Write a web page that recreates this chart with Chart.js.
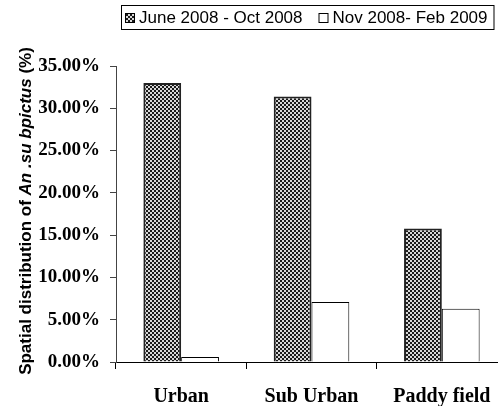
<!DOCTYPE html>
<html>
<head>
<meta charset="utf-8">
<script src="https://cdn.jsdelivr.net/npm/chart.js@4.4.1/dist/chart.umd.min.js"></script>
<style>
  html, body { margin: 0; padding: 0; background: #fff; overflow: hidden; }
  #wrap { width: 510px; height: 406px; }
</style>
</head>
<body>
<div id="wrap"><canvas id="c" width="510" height="406"></canvas></div>
<script>
// Sites surveyed and share of An. subpictus found at each, per season (%)
const categories = ['Urban', 'Sub Urban', 'Paddy field'];
const seasonLabels = ['June 2008 - Oct 2008', 'Nov 2008- Feb 2009'];
const juneToOct = [33.0, 31.4, 15.8];
const novToFeb = [0.6, 7.1, 6.3];
const yTicks = [0, 5, 10, 15, 20, 25, 30, 35];

// fine black/white checker fill for the first season
function checker() {
  const p = document.createElement('canvas');
  p.width = 4; p.height = 4;
  const g = p.getContext('2d');
  g.fillStyle = '#d8d8d8'; g.fillRect(0, 0, 4, 4);
  g.fillStyle = '#1a1a1a';
  g.fillRect(0, 0, 2, 2); g.fillRect(2, 2, 2, 2);
  return g.createPattern(p, 'repeat');
}
const ctx = document.getElementById('c').getContext('2d');
const hatch = checker();

// boxed legend and the mixed-style y title
const decorations = {
  id: 'decorations',
  afterDraw(chart) {
    const c = chart.ctx;
    c.save();
    // legend
    c.font = '17px "Liberation Sans", Arial, sans-serif';
    c.textBaseline = 'middle';
    const top = 5, h = 24, left = 121;
    let x = left + 4;
    const cy = top + h / 2 + 1;
    const fills = [hatch, '#ffffff'];
    const items = [];
    seasonLabels.forEach((lab, i) => {
      items.push({ x, lab, fill: fills[i] });
      x += 10 + 4 + c.measureText(lab).width + 16;
    });
    const right = x - 10;
    c.strokeStyle = '#000'; c.lineWidth = 1;
    c.strokeRect(left + 0.5, top + 0.5, right - left, h);
    items.forEach(it => {
      c.fillStyle = it.fill;
      c.fillRect(it.x, cy - 5, 10, 10);
      c.strokeStyle = '#000';
      c.strokeRect(it.x + 0.5, cy - 5 + 0.5, 9, 9);
      c.fillStyle = '#000';
      c.fillText(it.lab, it.x + 14, cy);
    });
    // y title
    const fam = '"Liberation Sans", Arial, sans-serif';
    const parts = [
      { t: 'Spatial distribution of ', f: 'bold 17px ' + fam },
      { t: 'An .su bpictus', f: 'italic bold 17px ' + fam },
      { t: ' (%)', f: 'bold 17px ' + fam }
    ];
    let total = 0;
    parts.forEach(p => { c.font = p.f; p.w = c.measureText(p.t).width; total += p.w; });
    c.translate(31, 211);
    c.rotate(-Math.PI / 2);
    c.textBaseline = 'alphabetic';
    c.fillStyle = '#000';
    let px = -total / 2;
    parts.forEach(p => { c.font = p.f; c.fillText(p.t, px, 0); px += p.w; });
    c.restore();
  }
};

new Chart(ctx, {
  type: 'bar',
  data: {
    labels: categories,
    datasets: [
      { label: seasonLabels[0], data: juneToOct, backgroundColor: hatch,
        borderColor: '#222', borderWidth: 2 },
      { label: seasonLabels[1], data: novToFeb, backgroundColor: '#ffffff',
        borderColor: '#000', borderWidth: 1 }
    ]
  },
  options: {
    responsive: false,
    animation: false,
    devicePixelRatio: 1,
    layout: { padding: { top: 66, right: 3, left: 0, bottom: 0 } },
    plugins: { legend: { display: false }, tooltip: { enabled: false } },
    datasets: { bar: { categoryPercentage: 0.58, barPercentage: 1.0 } },
    scales: {
      x: {
        grid: { display: true, drawOnChartArea: false, drawTicks: true, tickLength: 7,
                color: '#000', offset: true },
        border: { display: true, color: '#000', width: 1 },
        ticks: { color: '#000', padding: 16,
                 font: { family: '"Liberation Serif", "Times New Roman", serif', size: 20, weight: 'bold' } },
        afterFit(s) { s.height = 44; }
      },
      y: {
        min: 0, max: 35,
        afterBuildTicks(s) { s.ticks = yTicks.map(v => ({ value: v })); },
        grid: { display: true, drawOnChartArea: false, drawTicks: true, tickLength: 6, color: '#444' },
        border: { display: true, color: '#444', width: 1 },
        ticks: { color: '#000', padding: 10,
                 callback: v => v.toFixed(2) + '%',
                 font: { family: '"Liberation Serif", "Times New Roman", serif', size: 19, weight: 'bold' } },
        afterFit(s) { s.width = 116; }
      }
    }
  },
  plugins: [decorations]
});
</script>
</body>
</html>
